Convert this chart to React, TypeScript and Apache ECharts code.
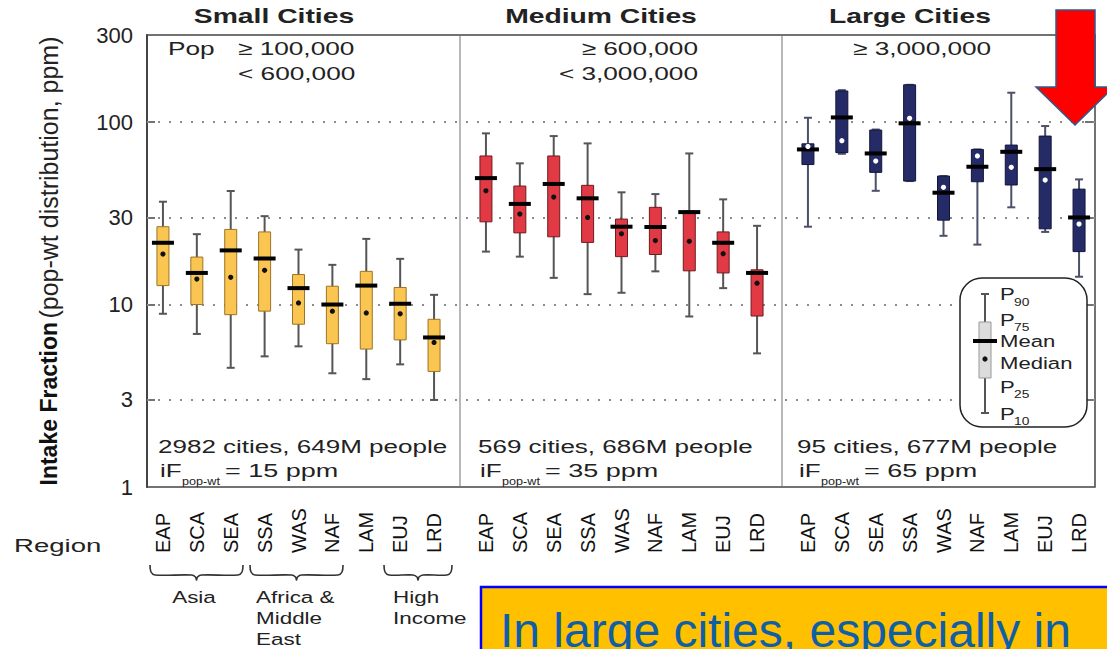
import React, { useEffect, useRef } from "react";
import * as echarts from "echarts";

// Regions shown along each panel's category axis
const REGIONS = ["EAP", "SCA", "SEA", "SSA", "WAS", "NAF", "LAM", "EUJ", "LRD"];

// Intake fraction per region, ppm: [P10, P25, median, mean, P75, P90]
const SMALL = [
  [8.9, 12.7, 18.9, 21.8, 26.7, 36.6],
  [6.9, 10.0, 13.8, 14.9, 18.2, 24.3],
  [4.5, 8.8, 14.1, 19.8, 25.8, 41.9],
  [5.2, 9.2, 15.4, 17.9, 25.0, 30.5],
  [5.9, 7.8, 10.2, 12.3, 14.6, 20.0],
  [4.2, 6.1, 9.2, 10.0, 12.6, 16.5],
  [3.9, 5.7, 9.0, 12.7, 15.2, 22.9],
  [4.7, 6.4, 8.9, 10.1, 12.4, 17.8],
  [3.0, 4.3, 6.2, 6.6, 8.3, 11.3],
];
const MEDIUM = [
  [19.5, 28.4, 42.0, 49.3, 65.2, 86.7],
  [18.3, 24.7, 31.3, 35.6, 44.6, 59.4],
  [14.0, 23.5, 38.8, 45.8, 65.2, 83.8],
  [11.4, 21.9, 30.0, 38.2, 45.0, 76.4],
  [11.6, 18.3, 24.4, 26.7, 29.4, 41.2],
  [15.2, 18.8, 22.4, 26.6, 34.1, 40.3],
  [8.6, 15.3, 22.2, 32.1, 32.5, 67.3],
  [12.3, 14.9, 19.0, 21.8, 25.0, 37.7],
  [5.4, 8.65, 13.1, 14.9, 15.5, 27.0],
];
const LARGE = [
  [26.7, 58.5, 73.5, 70.8, 76.0, 105.6],
  [67.0, 68.0, 79.0, 106.0, 148.0, 149.6],
  [42.0, 53.0, 61.1, 67.3, 90.4, 91.0],
  [47.5, 47.5, 104.8, 98.4, 160.0, 160.0],
  [23.8, 29.0, 43.9, 41.0, 50.6, 50.6],
  [21.3, 47.1, 65.2, 56.9, 70.8, 70.8],
  [34.1, 45.2, 56.5, 68.7, 74.8, 144.8],
  [25.0, 26.0, 48.1, 55.2, 83.8, 95.1],
  [14.2, 19.5, 27.6, 30.0, 42.9, 48.5],
];

const Y_TICK_LABELS = [1, 3, 10, 30, 100, 300];
const GRID_LINE_VALUES = [3, 10, 30, 100];

const PANEL_TITLES = ["Small Cities", "Medium Cities", "Large Cities"];
const POP_LOWER = ["≥ 100,000", "≥ 600,000", "≥ 3,000,000"];
const POP_UPPER = ["< 600,000", "< 3,000,000", ""];
const CITY_COUNTS = [
  "2982 cities, 649M people",
  "569 cities, 686M people",
  "95 cities, 677M people",
];
const IF_POP_WT = [15, 35, 65];

const LEGEND_LABELS = [
  ["P", "90"],
  ["P", "75"],
  ["Mean", ""],
  ["Median", ""],
  ["P", "25"],
  ["P", "10"],
];

// ---- layout / styling ----
const W = 1107;
const H = 649;
const FONT = '"Liberation Sans", Arial, Helvetica, sans-serif';
const SX = 1.37; // horizontal text widening
const PLOT_LEFT = 147;
const PLOT_RIGHT = 1095;
const PLOT_TOP = 35;
const PLOT_BOTTOM = 487;
const PANEL_LEFTS = [146, 469, 791];
const PANEL_WIDTH = 305;
const LABEL_SHIFT = [12, 6, 4];
const PANEL_STYLES = [
  { fill: "#FBC552", stroke: "#9C7424", whisker: "#555555", dot: "#111111" },
  { fill: "#E13A45", stroke: "#6E1A20", whisker: "#555555", dot: "#111111" },
  { fill: "#252B66", stroke: "#11153A", whisker: "#4C5068", dot: "#FFFFFF" },
];
const TITLE_CENTERS = [274, 601, 910];
const COUNT_LEFTS = [158, 478, 797];

type Row = number[];

function makeRenderItem(style: (typeof PANEL_STYLES)[number]) {
  return (_params: any, api: any) => {
    const idx = api.value(0);
    const x = api.coord([idx, 1])[0];
    const yOf = (d: number) => api.coord([idx, api.value(d)])[1];
    const y10 = yOf(1);
    const y25 = yOf(2);
    const yMed = yOf(3);
    const yMean = yOf(4);
    const y75 = yOf(5);
    const y90 = yOf(6);
    const wl = { stroke: style.whisker, lineWidth: 2 };
    return {
      type: "group",
      children: [
        { type: "line", shape: { x1: x, y1: y90, x2: x, y2: y10 }, style: wl },
        { type: "line", shape: { x1: x - 4, y1: y90, x2: x + 4, y2: y90 }, style: wl },
        { type: "line", shape: { x1: x - 4, y1: y10, x2: x + 4, y2: y10 }, style: wl },
        {
          type: "rect",
          shape: { x: x - 6, y: y75, width: 12, height: y25 - y75 },
          style: { fill: style.fill, stroke: style.stroke, lineWidth: 1 },
        },
        {
          type: "rect",
          shape: { x: x - 11, y: yMean - 2, width: 22, height: 4 },
          style: { fill: "#000000" },
        },
        { type: "circle", shape: { cx: x, cy: yMed, r: 2.6 }, style: { fill: style.dot } },
      ],
    };
  };
}

function text(
  str: string,
  x: number,
  y: number,
  size: number,
  opts: { align?: string; weight?: string; sx?: number; color?: string } = {}
) {
  return {
    type: "text",
    x,
    y,
    z: 20,
    scaleX: opts.sx ?? SX,
    silent: true,
    style: {
      text: str,
      fontSize: size,
      fontFamily: FONT,
      fontWeight: opts.weight ?? "normal",
      fill: opts.color ?? "#222222",
      align: opts.align ?? "left",
      verticalAlign: "middle",
    },
  };
}

function brace(x0: number, x1: number, yTop: number) {
  const mid = (x0 + x1) / 2;
  const yb = yTop + 10;
  return {
    type: "polyline",
    z: 20,
    silent: true,
    shape: {
      smooth: 0.35,
      points: [
        [x0, yTop],
        [x0 + 1, yb - 3],
        [x0 + 5, yb],
        [mid - 5, yb],
        [mid - 1, yb + 2],
        [mid, yb + 5],
        [mid + 1, yb + 2],
        [mid + 5, yb],
        [x1 - 5, yb],
        [x1 - 1, yb - 3],
        [x1, yTop],
      ],
    },
    style: { stroke: "#333333", lineWidth: 1.6, fill: "none" },
  };
}

function buildGraphics() {
  const els: any[] = [];

  // panel titles
  PANEL_TITLES.forEach((t, i) =>
    els.push(text(t, TITLE_CENTERS[i], 16, 20.5, { align: "center", weight: "bold", sx: 1.38 }))
  );

  // population ranges
  els.push(text("Pop", 168, 48.5, 19, { sx: 1.38 }));
  els.push(text(POP_LOWER[0], 238, 48.5, 19, { sx: 1.38 }));
  els.push(text(POP_UPPER[0], 238, 73, 19, { sx: 1.38 }));
  els.push(text(POP_LOWER[1], 698, 48.5, 19, { sx: 1.38, align: "right" }));
  els.push(text(POP_UPPER[1], 698, 73, 19, { sx: 1.38, align: "right" }));
  els.push(text(POP_LOWER[2], 853, 48.5, 19, { sx: 1.38 }));

  // city counts and population-weighted iF
  CITY_COUNTS.forEach((c, i) => {
    const x = COUNT_LEFTS[i];
    els.push(text(c, x, 446.5, 19));
    els.push(text("iF", x + 2, 470, 19));
    els.push(text("pop-wt", x + 24, 481, 11, { sx: 1.15 }));
    els.push(text(`= ${IF_POP_WT[i]} ppm`, x + 67, 470, 19, { sx: 1.42 }));
  });

  // panel dividers
  [460, 782].forEach((x) =>
    els.push({
      type: "line",
      z: 20,
      silent: true,
      shape: { x1: x, y1: PLOT_TOP + 1, x2: x, y2: PLOT_BOTTOM - 1 },
      style: { stroke: "#B8B8B8", lineWidth: 2 },
    })
  );

  // region grouping
  els.push(text("Region", 14, 546, 19, { sx: 1.45 }));
  els.push(brace(150, 243, 565));
  els.push(brace(250, 343, 565));
  els.push(brace(384, 452, 565));
  els.push(text("Asia", 194, 597, 17, { align: "center", sx: 1.32 }));
  els.push(text("Africa &", 256, 597, 17, { sx: 1.32 }));
  els.push(text("Middle", 256, 618, 17, { sx: 1.32 }));
  els.push(text("East", 256, 639, 17, { sx: 1.32 }));
  els.push(text("High", 393, 597, 17, { sx: 1.32 }));
  els.push(text("Income", 393, 618, 17, { sx: 1.32 }));

  // legend key
  const lx = 985;
  els.push({
    type: "rect",
    z: 20,
    silent: true,
    shape: { x: 960, y: 278, width: 127, height: 149, r: 22 },
    style: { fill: "#FFFFFF", stroke: "#222222", lineWidth: 1.5 },
  });
  const kw = { stroke: "#555555", lineWidth: 2 };
  els.push({ type: "line", z: 21, silent: true, shape: { x1: lx, y1: 294, x2: lx, y2: 413 }, style: kw });
  els.push({ type: "line", z: 21, silent: true, shape: { x1: lx - 4, y1: 294, x2: lx + 4, y2: 294 }, style: kw });
  els.push({ type: "line", z: 21, silent: true, shape: { x1: lx - 4, y1: 413, x2: lx + 4, y2: 413 }, style: kw });
  els.push({
    type: "rect",
    z: 21,
    silent: true,
    shape: { x: lx - 6, y: 322, width: 12, height: 56 },
    style: { fill: "#DCDCDC", stroke: "#999999", lineWidth: 1 },
  });
  els.push({
    type: "rect",
    z: 22,
    silent: true,
    shape: { x: lx - 12, y: 339, width: 24, height: 4 },
    style: { fill: "#000000" },
  });
  els.push({ type: "circle", z: 22, silent: true, shape: { cx: lx, cy: 359, r: 2.6 }, style: { fill: "#111111" } });
  const legendY = [294, 319.5, 341, 363, 386.5, 413.5];
  LEGEND_LABELS.forEach(([main, sub], i) => {
    els.push(text(main, 1000, legendY[i], 17, { sx: 1.3 }));
    if (sub) els.push(text(sub, 1014, legendY[i] + 8, 11.5, { sx: 1.2 }));
  });

  // call-out arrow
  els.push({
    type: "polygon",
    z: 30,
    silent: true,
    shape: {
      points: [
        [1056, 10],
        [1095, 10],
        [1095, 87],
        [1114, 87],
        [1075, 125],
        [1036, 87],
        [1056, 87],
      ],
    },
    style: { fill: "#FF0000", stroke: "#2F5A8C", lineWidth: 1.5 },
  });

  // caption banner
  els.push({
    type: "rect",
    z: 30,
    silent: true,
    shape: { x: 481, y: 587, width: 640, height: 80 },
    style: { fill: "#FFC000", stroke: "#0000FF", lineWidth: 2.5 },
  });
  els.push({
    type: "text",
    z: 31,
    silent: true,
    x: 500,
    y: 630,
    style: {
      text: "In large cities, especially in",
      fontSize: 48,
      fontFamily: FONT,
      fill: "#0F5FA6",
      align: "left",
      verticalAlign: "middle",
    },
  });

  return els;
}

export default function App() {
  const ref = useRef<HTMLDivElement>(null);

  useEffect(() => {
    if (!ref.current) return;
    const chart = echarts.init(ref.current, undefined, { renderer: "svg" });
    const panels: Row[][] = [SMALL, MEDIUM, LARGE];

    const option: any = {
      animation: false,
      backgroundColor: "#FFFFFF",
      textStyle: { fontFamily: FONT },
      grid: [
        {
          left: PLOT_LEFT,
          top: PLOT_TOP,
          width: PLOT_RIGHT - PLOT_LEFT,
          height: PLOT_BOTTOM - PLOT_TOP,
          show: true,
          borderColor: "#444444",
          borderWidth: 1.5,
          backgroundColor: "transparent",
        },
        ...PANEL_LEFTS.map((l) => ({
          left: l,
          top: PLOT_TOP,
          width: PANEL_WIDTH,
          height: PLOT_BOTTOM - PLOT_TOP,
        })),
      ],
      xAxis: [
        { gridIndex: 0, type: "value", min: 0, max: 1, show: false },
        ...PANEL_LEFTS.map((_, i) => ({
          gridIndex: i + 1,
          type: "category",
          data: REGIONS,
          boundaryGap: true,
          axisLine: { show: false },
          axisTick: { show: false },
          splitLine: { show: false },
          axisLabel: {
            interval: 0,
            rotate: 90,
            margin: 66,
            align: "left",
            verticalAlign: "middle",
            padding: [0, 0, LABEL_SHIFT[i], 0],
            fontSize: 20,
            color: "#111111",
            fontFamily: FONT,
          },
        })),
      ],
      yAxis: [
        {
          gridIndex: 0,
          type: "log",
          logBase: 10,
          min: 1,
          max: 300,
          name: "{b|Intake Fraction} {n|(pop-wt distribution, ppm)}",
          nameLocation: "middle",
          nameRotate: 90,
          nameGap: 86,
          nameTextStyle: {
            rich: {
              b: { fontSize: 23, fontWeight: "bold", color: "#111111", fontFamily: FONT },
              n: { fontSize: 25, color: "#222222", fontFamily: FONT },
            },
          },
          axisLine: { show: true, lineStyle: { color: "#444444", width: 2 } },
          axisTick: {
            show: true,
            inside: true,
            length: 8,
            customValues: GRID_LINE_VALUES,
            lineStyle: { color: "#444444", width: 1.5 },
          },
          axisLabel: {
            customValues: Y_TICK_LABELS,
            fontSize: 22,
            color: "#222222",
            margin: 14,
            fontFamily: FONT,
          },
          splitLine: { show: false },
          minorTick: { show: false },
        },
        {
          gridIndex: 0,
          type: "log",
          logBase: 10,
          min: 1,
          max: 300,
          position: "right",
          axisLine: { show: false },
          axisTick: {
            show: true,
            inside: true,
            length: 10,
            customValues: GRID_LINE_VALUES,
            lineStyle: { color: "#444444", width: 1.5 },
          },
          axisLabel: { show: false },
          splitLine: { show: false },
        },
        ...PANEL_LEFTS.map((_, i) => ({
          gridIndex: i + 1,
          type: "log",
          logBase: 10,
          min: 1,
          max: 300,
          show: false,
          splitLine: { show: false },
        })),
      ],
      series: [
        {
          type: "line",
          xAxisIndex: 0,
          yAxisIndex: 0,
          data: [],
          silent: true,
          markLine: {
            silent: true,
            symbol: ["none", "none"],
            label: { show: false },
            lineStyle: { type: [2, 9], color: "#8C8C8C", width: 2 },
            data: GRID_LINE_VALUES.map((v) => ({ yAxis: v })),
          },
        },
        ...panels.map((rows, i) => ({
          type: "custom",
          xAxisIndex: i + 1,
          yAxisIndex: i + 2,
          z: 5,
          data: rows.map((r, j) => [j, ...r]),
          encode: { x: 0, y: [1, 2, 3, 4, 5, 6] },
          renderItem: makeRenderItem(PANEL_STYLES[i]),
        })),
      ],
      graphic: { elements: buildGraphics() },
    };

    chart.setOption(option);
    return () => chart.dispose();
  }, []);

  return (
    <div
      ref={ref}
      style={{ position: "fixed", left: 0, top: 0, width: W, height: H, background: "#fff" }}
    />
  );
}
